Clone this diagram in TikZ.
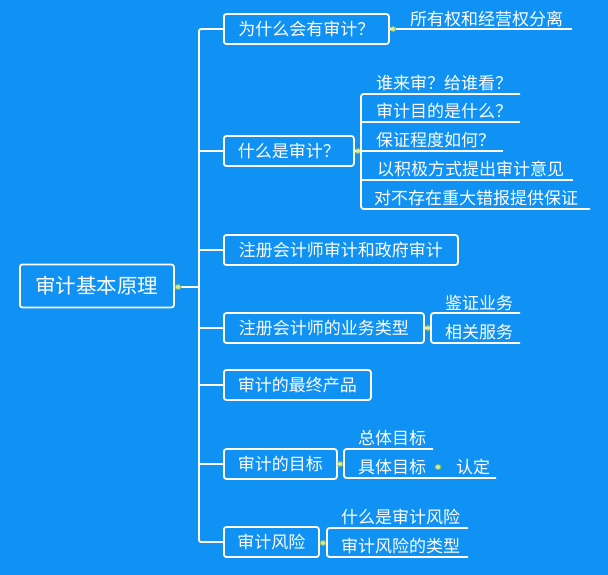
\documentclass[tikz,border=0pt]{standalone}
\usepackage{fontspec}
\setmainfont{Noto Sans CJK SC}
\usetikzlibrary{shapes.geometric}
\definecolor{bg}{RGB}{16,146,245}
\definecolor{dotfill}{RGB}{214,232,160}
\definecolor{dotdraw}{RGB}{120,185,90}
\tikzset{
  boxa/.style={draw=white, line width=1.8pt, rounded corners=2.5pt, text=white,
    font=\fontsize{17}{17}\selectfont, minimum height=30pt, inner sep=0pt, anchor=west},
  rootbox/.style={boxa, font=\fontsize{20.5}{20.5}\selectfont, minimum height=43pt},
  lbl/.style={text=white, font=\fontsize{17}{17}\selectfont, inner sep=0pt, anchor=west},
  conn/.style={draw=white, line width=1.8pt},
  knob/.style={ellipse, draw=dotdraw, fill=dotfill, line width=0.8pt, minimum width=6pt, minimum height=5pt, inner sep=0pt}
}
\begin{document}
\begin{tikzpicture}[x=1pt,y=-1pt]
\fill[bg] (0,0) rectangle (608,575);
\useasboundingbox (0,0) rectangle (608,575);

% root
\node[rootbox, minimum width=154pt] (root) at (19,286) {审计基本原理};
\node[knob] (rdot) at (178,287) {};
\coordinate (tk) at (199,287);

% level 1 boxes
\node[boxa, minimum width=165pt] (b1) at (223,29) {为什么会有审计？};
\node[boxa, minimum width=130pt] (b2) at (223,151) {什么是审计？};
\node[boxa, minimum width=234pt] (b3) at (223,250) {注册会计师审计和政府审计};
\node[boxa, minimum width=200pt] (b4) at (223,328) {注册会计师的业务类型};
\node[boxa, minimum width=147pt] (b5) at (223,385) {审计的最终产品};
\node[boxa, minimum width=113pt] (b6) at (223,464) {审计的目标};
\node[boxa, minimum width=95pt] (b7) at (223,542) {审计风险};

% trunk
\draw[conn] (root.east) -- (rdot) -- (tk);
\draw[conn, rounded corners=2pt] (b1.west) -- ++(-24,0) |- (b7.west);
\foreach \b in {b2,b3,b4,b5,b6} \draw[conn] (\b.west) -- ++(-24,0);

% knobs on level 1
\node[knob] (d1) at (393,29) {};
\node[knob] (d2) at (358,151) {};
\node[knob] (d4) at (428,328) {};
\node[knob] (d6) at (340,464) {};
\node[knob] (d7) at (323,543) {};

% branch 1
\coordinate (u1e) at (572,29);
\draw[conn] (b1.east) -- (d1) -- (u1e);
\node[lbl] (c11) at (410,19) {所有权和经营权分离};

% branch 2
\coordinate (k2) at (361,151);
\coordinate (u21s) at (361,94);  \coordinate (u21e) at (520,94);
\coordinate (u22s) at (361,122); \coordinate (u22e) at (520,122);
\coordinate (u23s) at (361,151); \coordinate (u23e) at (503,151);
\coordinate (u24s) at (361,180); \coordinate (u24e) at (573,180);
\coordinate (u25s) at (361,209); \coordinate (u25e) at (590,209);
\draw[conn] (b2.east) -- (d2) -- (k2);
\draw[conn, rounded corners=2.5pt] (u21e) -- (u21s) -- (u25s) -- (u25e);
\draw[conn] (u22s) -- (u22e);
\draw[conn] (u23s) -- (u23e);
\draw[conn] (u24s) -- (u24e);
\node[lbl] (c21) at (376,83) {谁来审？给谁看？};
\node[lbl] (c22) at (376,111) {审计目的是什么？};
\node[lbl] (c23) at (376,140) {保证程度如何？};
\node[lbl] (c24) at (377,169) {以积极方式提出审计意见};
\node[lbl] (c25) at (374,198) {对不存在重大错报提供保证};

% branch 4
\coordinate (k4) at (431,328);
\coordinate (u41s) at (431,313); \coordinate (u41e) at (520,313);
\coordinate (u42s) at (431,343); \coordinate (u42e) at (520,343);
\draw[conn] (b4.east) -- (d4) -- (k4);
\draw[conn, rounded corners=2.5pt] (u41e) -- (u41s) -- (u42s) -- (u42e);
\node[lbl] (c41) at (445,303) {鉴证业务};
\node[lbl] (c42) at (445,332) {相关服务};

% branch 6
\coordinate (k6) at (344,464);
\coordinate (u61s) at (344,449); \coordinate (u61e) at (433,449);
\coordinate (u62s) at (344,478); \coordinate (u62e) at (496,478);
\draw[conn] (b6.east) -- (d6) -- (k6);
\draw[conn, rounded corners=2.5pt] (u61e) -- (u61s) -- (u62s) -- (u62e);
\node[lbl] (c61) at (358,438) {总体目标};
\node[lbl] (c62) at (358,467) {具体目标};
\node[knob] (d62) at (438,467) {};
\node[lbl] (c63) at (456,467) {认定};

% branch 7
\coordinate (k7) at (327,543);
\coordinate (u71s) at (327,528); \coordinate (u71e) at (468,528);
\coordinate (u72s) at (327,557); \coordinate (u72e) at (468,557);
\draw[conn] (b7.east) -- (d7) -- (k7);
\draw[conn, rounded corners=2.5pt] (u71e) -- (u71s) -- (u72s) -- (u72e);
\node[lbl] (c71) at (341,517) {什么是审计风险};
\node[lbl] (c72) at (341,546) {审计风险的类型};
\end{tikzpicture}
\end{document}
